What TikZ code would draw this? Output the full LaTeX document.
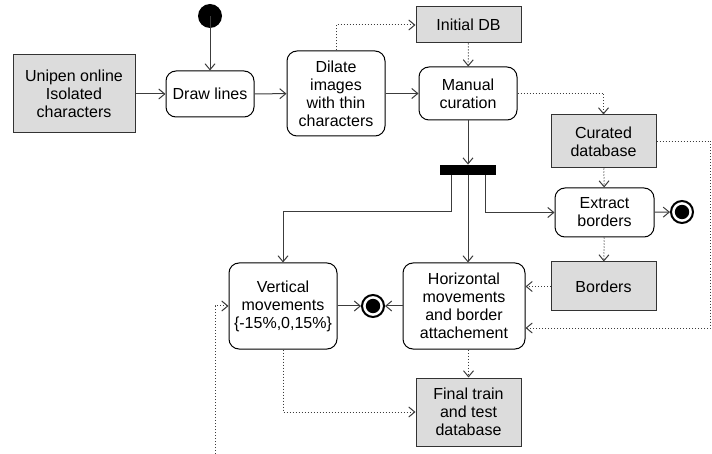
\documentclass[tikz,border=0pt]{standalone}
\usepackage{fontspec}
\setmainfont{Liberation Sans}
\usepackage{tikz}
\usetikzlibrary{arrows.meta}
\definecolor{dbgray}{RGB}{220,220,220}
\definecolor{lineg}{RGB}{60,60,60}

\begin{document}
\begin{tikzpicture}[x=0.5pt,y=-0.5pt,
  font=\fontsize{8}{9}\selectfont,
  act/.style={draw=black,fill=white,rounded corners=5pt,align=center,inner sep=0pt,line width=0.5pt},
  store/.style={draw=black!80,fill=dbgray,align=center,inner sep=0pt,line width=0.5pt},
  flow/.style={draw=lineg,line width=0.5pt,-{Straight Barb[length=3pt,width=5pt]}},
  data/.style={flow,densely dotted}]
\useasboundingbox (0,0) rectangle (712,454);
\fill[black] (210,16) circle (6pt) coordinate (start);
\node[store,minimum width=61pt,minimum height=39pt] (unipen) at (74,94) {Unipen online\\Isolated\\characters};
\node[act,minimum width=44pt,minimum height=23pt] (drawl) at (210,94) {Draw lines};
\node[act,minimum width=49pt,minimum height=42.5pt] (dilate) at (336,93.5) {Dilate\\images\\with thin\\characters};
\node[store,minimum width=52.5pt,minimum height=18pt] (initdb) at (468.5,25) {Initial DB};
\node[act,minimum width=49pt,minimum height=26.5pt] (manual) at (468,93.5) {Manual\\curation};
\node[store,minimum width=52.5pt,minimum height=26.5pt] (curated) at (603.5,141.5) {Curated\\database};
\node[fill=black,minimum width=28pt,minimum height=5pt,inner sep=0pt] (fork) at (468,170) {};
\node[act,minimum width=49.5pt,minimum height=24.5pt] (extract) at (604.5,212.5) {Extract\\borders};
\node[store,minimum width=52.5pt,minimum height=24.5pt] (borders) at (603.5,286.5) {Borders};
\node[act,minimum width=61pt,minimum height=43pt] (horiz) at (464,306) {Horizontal\\movements\\and border\\attachement};
\node[act,minimum width=54pt,minimum height=43pt] (vert) at (283,306) {Vertical\\movements\\\{-15\%,0,15\%\}};
\node[store,minimum width=52.5pt,minimum height=34pt] (final) at (468.5,412) {Final train\\and test\\database};
% final states
\node[circle,draw=black,line width=1pt,fill=white,minimum size=11pt,inner sep=0pt] (endx) at (682,212) {};
\fill[black] (endx) circle (3.6pt);
\node[circle,draw=black,line width=1pt,fill=white,minimum size=11pt,inner sep=0pt] (endv) at (373,306) {};
\fill[black] (endv) circle (3.6pt);
\coordinate (loose) at (215,454);
% control flow
\draw[flow] (start) -- (drawl.north);
\draw[flow] (unipen) -- (drawl);
\draw[flow] (drawl) -- (dilate);
\draw[flow] (dilate) -- (manual);
\draw[flow] (manual) -- (fork);
\draw[flow] ([xshift=-8.5pt]fork.south) -- ++(0,36) -| (vert.north);
\draw[flow] (fork.south) -- (fork.south |- horiz.north);
\draw[flow] ([xshift=8.5pt]fork.south) |- (extract.west);
\draw[flow] (extract) -- (endx);
\draw[flow] (vert) -- (endv);
\draw[flow] (horiz) -- (endv);
% object flow
\draw[data] (dilate.north) |- (initdb.west);
\draw[data] (initdb) -- (manual);
\draw[data] (manual.east) -| (curated.north);
\draw[data] (curated) -- (extract);
\draw[data] (extract) -- (borders);
\draw[data] (borders.west) -- (borders.west -| horiz.east);
\draw[data] (curated.east) -- ++(54,0) |- ([yshift=-11pt]horiz.east);
\draw[data] (final.north |- horiz.south) -- (final.north);
\draw[data] (vert.south) |- (final.west);
\draw[data] (loose) |- (vert.west);
\end{tikzpicture}
\end{document}
